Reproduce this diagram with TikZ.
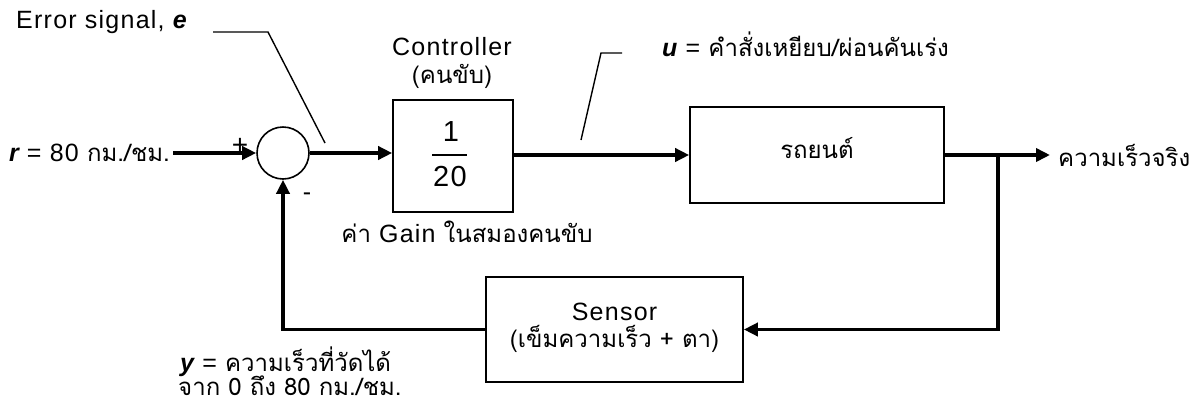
\documentclass[tikz,border=0pt]{standalone}
\usepackage{fontspec}
\setmainfont[LetterSpace=5]{Liberation Sans}
\newfontfamily\thai[Script=Thai]{Loma}
\newfontfamily\latin[LetterSpace=5]{Liberation Sans}
\usetikzlibrary{arrows.meta}
\tikzset{
  sig/.style={line width=3.6pt, -{Triangle[length=14pt,width=13pt]}},
  blk/.style={draw, line width=1.6pt, rectangle, align=center, inner sep=0pt},
  leader/.style={line width=1.4pt},
  lbl/.style={inner sep=0pt, font=\fontsize{25}{28}\selectfont},
  tlbl/.style={inner sep=0pt, font=\fontsize{24}{28}\selectfont\thai},
  big/.style={inner sep=0pt, font=\fontsize{29}{30}\selectfont}
}
\begin{document}
\begin{tikzpicture}[x=1pt,y=-1pt]
\useasboundingbox (0,0) rectangle (1198,405);

% blocks
\node[draw, circle, line width=1.6pt, minimum size=52pt, inner sep=0pt] (sum) at (283,153) {};
\node[blk, minimum width=120pt, minimum height=112pt] (ctrl) at (453,156) {};
\node[blk, minimum width=254pt, minimum height=96pt] (car) at (817,155) {};
\node[blk, minimum width=257pt, minimum height=105pt] (sensor) at (614.5,329.5) {};

% fraction inside the controller
\node[big] (num) at (451,132) {1};
\draw[line width=2.4pt] (432,155) -- (467,155);
\node[big] (den) at (450,177) {20};

% block texts
\node[tlbl] (cartxt) at (817,148) {รถยนต์};
\node[lbl] (sens1) at (614.5,312) {Sensor};
\node[tlbl] (sens2) at (614.5,339) {(เข็มความเร็ว + ตา)};
\node[lbl] (ctrl1) at (452,47) {Controller};
\node[tlbl] (ctrl2) at (452,76) {(คนขับ)};
\node[tlbl] (gain) at (467,232) {ค่า {\fontsize{25}{28}\latin Gain} ในสมองคนขับ};

% signal path coordinates
\coordinate (in) at (173,153);
\coordinate (branch) at (998,155);
\coordinate (out) at (1050,155);

% forward path
\draw[sig] (in) -- (sum.west);
\draw[sig] (sum.east) -- (sum.east -| ctrl.west);
\draw[sig] (ctrl.east |- car.west) -- (car.west);
\draw[sig] (car.east) -- (out);

% feedback path
\draw[sig] (branch) |- (sensor.east);
\draw[sig] (sensor.west) -| (sum.south);

% signs
\node[lbl, font=\fontsize{28}{28}\selectfont] (plus) at (240,146) {+};
\node[lbl] (minus) at (307,197) {-};

% signal labels
\node[lbl, anchor=east] (rlab) at (170,153) {{\bfseries\itshape r} = 80 {\fontsize{24}{28}\thai กม./ชม.}};
\node[tlbl, anchor=west] (outlab) at (1058,155) {ความเร็วจริง};
\node[lbl, anchor=west] (elab) at (16,22) {Error signal, {\bfseries\itshape e}};
\node[lbl, anchor=west] (ulab) at (662,44) {{\bfseries\itshape u} = {\fontsize{24}{28}\thai คำสั่งเหยียบ/ผ่อนคันเร่ง}};
\node[lbl, anchor=west] (ylab1) at (180,362) {{\bfseries\itshape y} = {\fontsize{24}{28}\thai ความเร็วที่วัดได้}};
\node[tlbl, anchor=west] (ylab2) at (178,386) {จาก 0 ถึง 80 กม./ชม.};

% leader lines
\coordinate (e1) at (213,32);
\coordinate (e2) at (268,32);
\coordinate (e3) at (325,143);
\draw[leader] (e1) -- (e2) -- (e3);
\coordinate (u1) at (622,53);
\coordinate (u2) at (601,53);
\coordinate (u3) at (581,140);
\draw[leader] (u1) -- (u2) -- (u3);
\end{tikzpicture}
\end{document}
